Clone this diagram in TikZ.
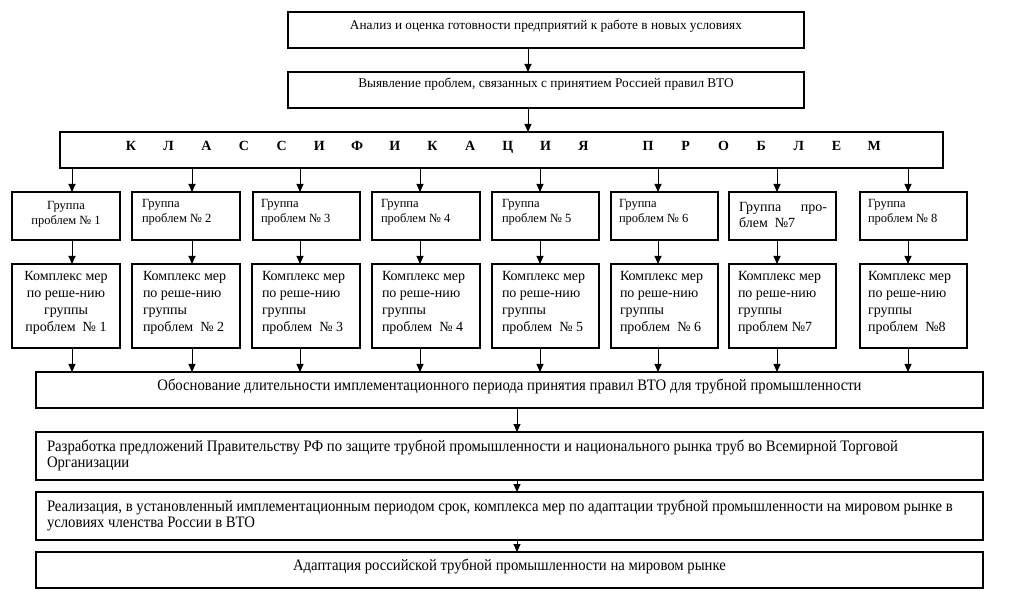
\documentclass[tikz,border=0pt]{standalone}
\usepackage{fontspec}
\setmainfont{Liberation Serif}
\newfontfamily\cond[FakeStretch=0.92]{Liberation Serif}
\usetikzlibrary{arrows.meta}
\newcommand\txtbox[5]{\parbox[c][#2pt][t]{#1pt}{\vspace*{\dimexpr #3pt-12pt\relax}#4\rule{0pt}{12pt}#5\par}}
\newcommand\clet[1]{\makebox[37.7pt]{#1}}
\newcommand\fcen[2]{\fontsize{#1}{#2}\selectfont\centering}
\newcommand\flft[3]{\fontsize{#1}{#2}\selectfont\leftskip=#3pt\rightskip=0pt plus 1fil\parfillskip=0pt plus 1fil\relax}
\begin{document}
\begin{tikzpicture}[x=1pt,y=-1pt,
  box/.style={draw, line width=1.2pt, inner sep=0pt, outer sep=0pt, anchor=north west},
  arr/.style={-{Triangle[length=8pt,width=7pt]}, line width=0.9pt}]
\useasboundingbox (0,0) rectangle (1009,601);
% top boxes
\node[box] (a1) at (288,12) {\txtbox{516}{36}{18}{\fcen{13.3}{15}}{Анализ и оценка готовности предприятий к работе в новых условиях}};
\node[box] (a2) at (288,72) {\txtbox{516}{36}{15.5}{\fcen{13.3}{15}}{Выявление проблем, связанных с принятием Россией правил ВТО}};
\node[box] (cls) at (60,132) {\txtbox{883}{36}{19}{\fontsize{14}{16}\selectfont\bfseries}{\hspace*{52.1pt}\clet{К}\clet{Л}\clet{А}\clet{С}\clet{С}\clet{И}\clet{Ф}\clet{И}\clet{К}\clet{А}\clet{Ц}\clet{И}\clet{Я}\hspace*{27pt}\clet{П}\clet{Р}\clet{О}\clet{Б}\clet{Л}\clet{Е}\clet{М}}};
% groups
\node[box] (g1) at (12,192) {\txtbox{108}{48}{18}{\fcen{12.5}{14.5}}{Группа\\проблем № 1}};
\node[box] (g2) at (132,192) {\txtbox{108}{48}{16}{\flft{12.5}{15}{10}}{Группа\\проблем № 2}};
\node[box] (g3) at (253,192) {\txtbox{107}{48}{16}{\flft{12.5}{15}{8}}{Группа\\проблем № 3}};
\node[box] (g4) at (372,192) {\txtbox{108}{48}{16}{\flft{12.5}{15}{9}}{Группа\\проблем № 4}};
\node[box] (g5) at (492,192) {\txtbox{107}{48}{16}{\flft{12.5}{15}{10}}{Группа\\проблем № 5}};
\node[box] (g6) at (611,192) {\txtbox{107}{48}{16}{\flft{12.5}{15}{8}}{Группа\\проблем № 6}};
\node[box] (g7) at (729,192) {\txtbox{107}{48}{20}{\flft{14}{16}{10}}{\makebox[88pt][s]{Группа про-}\\блем\ \ №7}};
\node[box] (g8) at (860,192) {\txtbox{107}{48}{16}{\flft{12.5}{15}{8}}{Группа\\проблем № 8}};
% measures
\node[box] (m1) at (12,264) {\txtbox{108}{84}{17}{\fcen{14}{16.7}}{Комплекс мер\\по реше-нию\\группы\\проблем\ \ № 1}};
\node[box] (m2) at (132,264) {\txtbox{108}{84}{17}{\flft{14}{16.7}{11}}{Комплекс мер\\по реше-нию\\группы\\проблем\ \ № 2}};
\node[box] (m3) at (252,264) {\txtbox{108}{84}{17}{\flft{14}{16.7}{10}}{Комплекс мер\\по реше-нию\\группы\\проблем\ \ № 3}};
\node[box] (m4) at (372,264) {\txtbox{108}{84}{17}{\flft{14}{16.7}{10}}{Комплекс мер\\по реше-нию\\группы\\проблем\ \ № 4}};
\node[box] (m5) at (492,264) {\txtbox{107}{84}{17}{\flft{14}{16.7}{10}}{Комплекс мер\\по реше-нию\\группы\\проблем\ \ № 5}};
\node[box] (m6) at (611,264) {\txtbox{107}{84}{17}{\flft{14}{16.7}{9}}{Комплекс мер\\по реше-нию\\группы\\проблем\ \ № 6}};
\node[box] (m7) at (729,264) {\txtbox{107}{84}{17}{\flft{14}{16.7}{9}}{Комплекс мер\\по реше-нию\\группы\\проблем №7}};
\node[box] (m8) at (860,264) {\txtbox{107}{84}{17}{\flft{14}{16.7}{8}}{Комплекс мер\\по реше-нию\\группы\\проблем\ \ №8}};
% bottom boxes
\node[box] (b1) at (36,372) {\txtbox{947}{36}{18}{\cond\fcen{16}{16}}{Обоснование длительности имплементационного периода принятия правил ВТО для трубной промышленности}};
\node[box] (b2) at (36,432) {\txtbox{947}{48}{19}{\cond\flft{16}{16}{11}}{Разработка предложений Правительству РФ по защите трубной промышленности и национального рынка труб во Всемирной Торговой\\Организации}};
\node[box] (b3) at (36,492) {\txtbox{947}{48}{19}{\cond\flft{16}{16}{11}}{Реализация, в установленный имплементационным периодом срок, комплекса мер по адаптации трубной промышленности на мировом рынке в\\условиях членства России в ВТО}};
\node[box] (b4) at (36,552) {\txtbox{947}{36}{18}{\cond\fcen{16}{16}}{Адаптация российской трубной промышленности на мировом рынке}};
% column coordinates
\coordinate (top) at (528,0);
\coordinate (mid) at (517,0);
\foreach \i/\x in {1/72,2/192,3/300,4/420,5/540,6/658,7/777,8/908}{
  \coordinate (c\i) at (\x,0);
}
\draw[arr] (a1.south -| top) -- (a2.north -| top);
\draw[arr] (a2.south -| top) -- (cls.north -| top);
\foreach \i in {1,...,8}{
  \draw[arr] (cls.south -| c\i) -- (g\i.north -| c\i);
  \draw[arr] (g\i.south -| c\i) -- (m\i.north -| c\i);
  \draw[arr] (m\i.south -| c\i) -- (b1.north -| c\i);
}
\draw[arr] (b1.south -| mid) -- (b2.north -| mid);
\draw[arr] (b2.south -| mid) -- (b3.north -| mid);
\draw[arr] (b3.south -| mid) -- (b4.north -| mid);
\end{tikzpicture}
\end{document}
